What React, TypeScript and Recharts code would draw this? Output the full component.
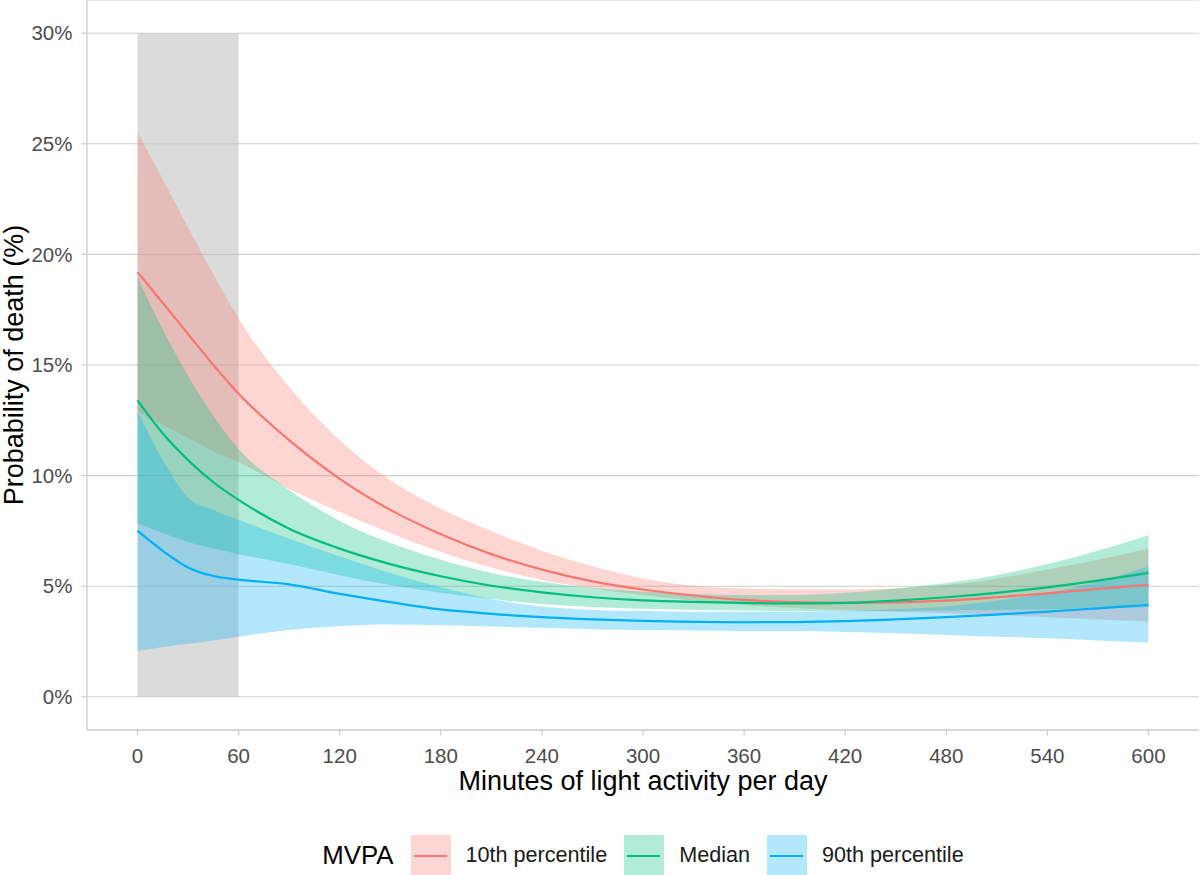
import React from 'react';
import {
  ComposedChart,
  Area,
  Line,
  XAxis,
  YAxis,
  CartesianGrid,
  ReferenceArea,
  Legend,
} from 'recharts';

const minutes = [0, 15, 30, 45, 60, 90, 120, 150, 180, 210, 240, 270, 300, 330, 360, 390, 420, 450, 480, 510, 540, 570, 600];

const p10 = [19.2, 17.8, 16.4, 15.0, 13.7, 11.6, 9.85, 8.45, 7.35, 6.45, 5.75, 5.22, 4.85, 4.58, 4.38, 4.28, 4.25, 4.27, 4.35, 4.5, 4.68, 4.88, 5.07];
const p10Lo = [12.9, 12.3, 11.7, 11.1, 10.6, 9.4, 8.35, 7.4, 6.55, 5.85, 5.28, 4.9, 4.6, 4.35, 4.15, 4.02, 3.92, 3.85, 3.78, 3.7, 3.6, 3.5, 3.4];
const p10Hi = [25.5, 23.4, 21.2, 19.1, 17.1, 14.0, 11.6, 9.8, 8.5, 7.5, 6.6, 5.9, 5.35, 5.02, 4.9, 4.85, 4.85, 4.9, 5.05, 5.35, 5.75, 6.2, 6.7];

const med = [13.4, 11.9, 10.7, 9.7, 8.9, 7.6, 6.7, 6.0, 5.45, 5.02, 4.72, 4.5, 4.36, 4.29, 4.25, 4.22, 4.25, 4.35, 4.5, 4.7, 4.95, 5.25, 5.6];
const medLo = [7.85, 7.4, 7.0, 6.7, 6.45, 6.0, 5.5, 5.05, 4.7, 4.42, 4.2, 4.06, 3.98, 3.93, 3.9, 3.88, 3.87, 3.88, 3.9, 3.93, 3.96, 4.0, 4.05];
const medHi = [18.95, 16.6, 14.5, 12.7, 11.2, 9.35, 7.95, 6.95, 6.2, 5.6, 5.2, 4.92, 4.76, 4.65, 4.6, 4.6, 4.7, 4.9, 5.15, 5.5, 6.0, 6.6, 7.3];

const p90 = [7.5, 6.6, 5.85, 5.46, 5.3, 5.08, 4.65, 4.28, 3.95, 3.75, 3.6, 3.5, 3.43, 3.39, 3.37, 3.38, 3.42, 3.5, 3.6, 3.72, 3.85, 4.0, 4.15];
const p90Lo = [2.07, 2.25, 2.4, 2.55, 2.72, 3.02, 3.2, 3.27, 3.23, 3.18, 3.12, 3.06, 3.02, 3.0, 2.98, 2.97, 2.93, 2.87, 2.8, 2.72, 2.65, 2.55, 2.45];
const p90Hi = [12.9, 10.7, 9.0, 8.45, 8.0, 7.15, 6.35, 5.6, 4.95, 4.42, 4.08, 3.93, 3.88, 3.85, 3.84, 3.85, 3.88, 3.96, 4.08, 4.35, 4.7, 5.2, 5.9];

const xTicks = [0, 60, 120, 180, 240, 300, 360, 420, 480, 540, 600];
const yTicks = [0, 5, 10, 15, 20, 25, 30];

const seriesNames = ['10th percentile', 'Median', '90th percentile'];
const seriesColors = ['#F8766D', '#00BF7D', '#00B0F6'];

const data = minutes.map((m, i) => ({
  m,
  p10: p10[i],
  p10r: [p10Lo[i], p10Hi[i]],
  med: med[i],
  medr: [medLo[i], medHi[i]],
  p90: p90[i],
  p90r: [p90Lo[i], p90Hi[i]],
}));

const FONT = '"Liberation Sans", Arial, Helvetica, sans-serif';
const AXIS_GREY = '#cccccc';

const hexToRgba = (hex: string, a: number) => {
  const r = parseInt(hex.slice(1, 3), 16);
  const g = parseInt(hex.slice(3, 5), 16);
  const b = parseInt(hex.slice(5, 7), 16);
  return `rgba(${r},${g},${b},${a})`;
};

const LegendContent = () => (
  <div
    style={{
      width: 1200,
      height: 55,
      boxSizing: 'border-box',
      paddingLeft: 87,
      paddingRight: 1,
      display: 'flex',
      justifyContent: 'center',
      alignItems: 'flex-start',
      fontFamily: FONT,
    }}
  >
    <div style={{ display: 'flex', alignItems: 'center', height: 40, marginTop: 15 }}>
      <span style={{ fontSize: 25.8, color: '#000', marginRight: 17, lineHeight: '40px' }}>MVPA</span>
      {seriesNames.map((name, i) => (
        <React.Fragment key={name}>
          <div
            style={{
              position: 'relative',
              width: 40,
              height: 40,
              background: hexToRgba(seriesColors[i], 0.3),
              marginRight: 15,
            }}
          >
            <div
              style={{
                position: 'absolute',
                left: 3,
                right: 4,
                top: 19.5,
                height: 2,
                background: seriesColors[i],
              }}
            />
          </div>
          <span
            style={{
              fontSize: 21.6,
              color: '#1a1a1a',
              marginRight: i < seriesNames.length - 1 ? 17 : 0,
              lineHeight: '40px',
            }}
          >
            {name}
          </span>
        </React.Fragment>
      ))}
    </div>
  </div>
);

const XTitle = (props: any) => {
  const vb = props.viewBox || { x: 87, y: 730, width: 1112 };
  return (
    <text
      x={vb.x + vb.width / 2}
      y={vb.y + 60}
      textAnchor="middle"
      fontSize={27}
      fontFamily={FONT}
      fill="#000"
    >
      Minutes of light activity per day
    </text>
  );
};

const YTitle = (props: any) => {
  const vb = props.viewBox || { x: 0, y: 0, height: 730 };
  const cy = vb.y + vb.height / 2;
  const cx = 23;
  return (
    <text
      x={cx}
      y={cy}
      transform={`rotate(-90 ${cx} ${cy})`}
      textAnchor="middle"
      fontSize={27}
      fontFamily={FONT}
      fill="#000"
    >
      Probability of death (%)
    </text>
  );
};

export default function App() {
  return (
    <div style={{ position: 'absolute', left: 0, top: 0, width: 1200, height: 875, background: '#fff' }}>
      <ComposedChart
        width={1200}
        height={875}
        data={data}
        margin={{ top: 0, right: 1, bottom: 0, left: 0 }}
        style={{ fontFamily: FONT }}
      >
        <CartesianGrid vertical={false} stroke="#cfcfcf" strokeWidth={1.1} />
        <XAxis
          dataKey="m"
          type="number"
          domain={[-30, 630]}
          ticks={xTicks}
          allowDataOverflow
          height={90}
          tickSize={5.5}
          tickMargin={13}
          axisLine={{ stroke: AXIS_GREY, strokeWidth: 1.2 }}
          tickLine={{ stroke: AXIS_GREY, strokeWidth: 1.2 }}
          tick={{ fontSize: 20.5, fill: '#4d4d4d', fontFamily: FONT }}
          label={{ content: XTitle }}
        />
        <YAxis
          type="number"
          domain={[-1.5, 31.5]}
          ticks={yTicks}
          allowDataOverflow
          width={87}
          tickSize={5.5}
          tickMargin={9}
          tickFormatter={(v: number) => `${v}%`}
          axisLine={{ stroke: AXIS_GREY, strokeWidth: 1.2 }}
          tickLine={{ stroke: AXIS_GREY, strokeWidth: 1.2 }}
          tick={{ fontSize: 20.5, fill: '#4d4d4d', fontFamily: FONT }}
          label={{ content: YTitle }}
        />
        <ReferenceArea x1={0} x2={60} y1={0} y2={30} fill="#bdbdbd" fillOpacity={0.55} stroke="none" />
        <Area dataKey="p10r" type="monotone" stroke="none" fill={seriesColors[0]} fillOpacity={0.3} isAnimationActive={false} legendType="none" />
        <Area dataKey="medr" type="monotone" stroke="none" fill={seriesColors[1]} fillOpacity={0.3} isAnimationActive={false} legendType="none" />
        <Area dataKey="p90r" type="monotone" stroke="none" fill={seriesColors[2]} fillOpacity={0.3} isAnimationActive={false} legendType="none" />
        <Line dataKey="p10" type="monotone" stroke={seriesColors[0]} strokeWidth={2.2} dot={false} activeDot={false} isAnimationActive={false} />
        <Line dataKey="med" type="monotone" stroke={seriesColors[1]} strokeWidth={2.2} dot={false} activeDot={false} isAnimationActive={false} />
        <Line dataKey="p90" type="monotone" stroke={seriesColors[2]} strokeWidth={2.2} dot={false} activeDot={false} isAnimationActive={false} />
        <Legend verticalAlign="bottom" align="left" height={55} content={LegendContent} wrapperStyle={{ left: 0, width: 1200, height: 55 }} />
      </ComposedChart>
    </div>
  );
}
